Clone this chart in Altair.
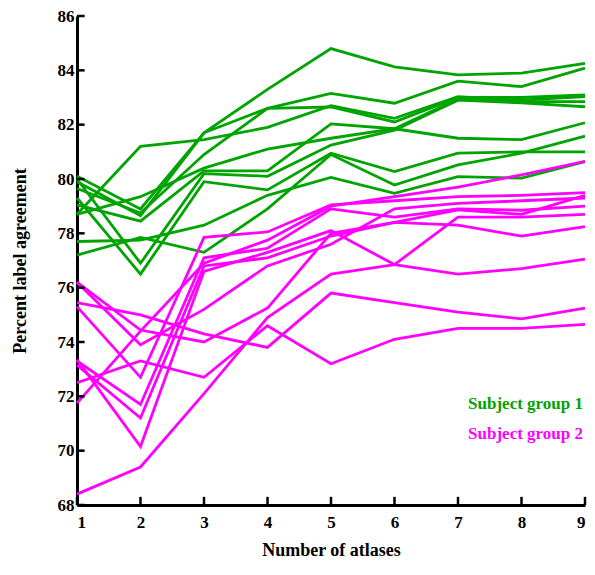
import altair as alt
import pandas as pd

atlases = [1, 2, 3, 4, 5, 6, 7, 8, 9]

# Subject group 1 (green) curves
g1 = [79.9, 78.65, 81.7, 83.3, 84.8, 84.13, 83.83, 83.9, 84.26]
g2 = [80.1, 78.9, 81.7, 82.6, 83.15, 82.79, 83.6, 83.4, 84.08]
g3 = [78.7, 81.2, 81.45, 81.9, 82.7, 82.23, 83.03, 82.9, 83.03]
g4 = [79.65, 78.75, 80.9, 82.6, 82.65, 82.1, 83.0, 83.0, 83.1]
g5 = [79.05, 78.45, 80.3, 80.3, 82.03, 81.85, 81.5, 81.45, 82.07]
g6 = [78.7, 79.35, 80.4, 81.1, 81.5, 81.85, 82.95, 82.85, 82.85]
g7 = [80.0, 76.9, 80.2, 80.1, 81.25, 81.8, 82.9, 82.8, 82.66]
g8 = [79.3, 76.5, 79.9, 79.6, 80.95, 80.27, 80.95, 81.0, 81.0]
g9 = [77.2, 77.85, 77.3, 78.9, 80.9, 79.78, 80.52, 80.95, 81.58]
g10 = [77.7, 77.75, 78.3, 79.4, 80.06, 79.47, 80.09, 80.03, 80.64]

# Subject group 2 (magenta) curves
m1 = [68.4, 69.4, 72.1, 74.9, 76.5, 76.85, 76.5, 76.7, 77.05]
m2 = [72.5, 73.3, 72.7, 74.6, 73.2, 74.1, 74.5, 74.5, 74.65]
m3 = [75.45, 75.0, 74.3, 73.8, 75.8, 75.45, 75.1, 74.85, 75.25]
m4 = [73.35, 70.15, 76.6, 77.3, 78.1, 76.85, 78.6, 78.6, 78.7]
m5 = [73.15, 71.2, 76.8, 77.1, 77.9, 78.4, 78.3, 77.9, 78.25]
m6 = [73.3, 71.7, 77.1, 77.45, 78.9, 78.6, 78.9, 78.85, 79.0]
m7 = [75.3, 72.7, 77.85, 78.05, 79.05, 79.2, 79.35, 79.4, 79.5]
m8 = [76.2, 73.9, 75.2, 76.8, 77.6, 78.9, 79.1, 79.2, 79.3]
m9 = [71.75, 74.4, 76.9, 77.75, 79.0, 79.35, 79.7, 80.15, 80.65]
m10 = [76.2, 74.44, 74.0, 75.25, 78.0, 78.4, 78.86, 78.7, 79.4]

group_names = ["Subject group 1", "Subject group 2"]
line_colors = ["#00a400", "#ff00ff"]
label_colors = ["#00cc00", "#ff00ff"]
label_y = [71.7, 70.6]

y_ticks = [68, 70, 72, 74, 76, 78, 80, 82, 84, 86]

rows = []
for gi, series in enumerate([[g1, g2, g3, g4, g5, g6, g7, g8, g9, g10],
                             [m1, m2, m3, m4, m5, m6, m7, m8, m9, m10]]):
    for si, vals in enumerate(series):
        for x, v in zip(atlases, vals):
            rows.append({"x": x, "y": v, "group": group_names[gi],
                         "series": f"{gi}-{si}"})
df = pd.DataFrame(rows)

xs = alt.Scale(domain=[1, 9], nice=False, zero=False)
ys = alt.Scale(domain=[68, 86], nice=False, zero=False)
font = "Liberation Serif"

lines = alt.Chart(df).mark_line(strokeWidth=2.8).encode(
    x=alt.X("x:Q", scale=xs, title="Number of atlases",
            axis=alt.Axis(values=atlases, format="d", tickSize=0,
                          labelPadding=9, titlePadding=11, grid=False)),
    y=alt.Y("y:Q", scale=ys, title="Percent label agreement",
            axis=alt.Axis(values=y_ticks, format="d", tickSize=0,
                          labelPadding=3, titlePadding=28, grid=False)),
    color=alt.Color("group:N", scale=alt.Scale(domain=group_names, range=line_colors),
                    legend=None),
    detail="series:N",
)

xt = pd.DataFrame({"x": atlases, "y0": [68] * 9, "y1": [68.3] * 9})
xticks = alt.Chart(xt).mark_rule(color="black", strokeWidth=2.5).encode(
    x=alt.X("x:Q", scale=xs), y=alt.Y("y0:Q", scale=ys), y2="y1:Q")

yt = pd.DataFrame({"y": y_ticks, "x0": [1] * len(y_ticks), "x1": [1.12] * len(y_ticks)})
yticks = alt.Chart(yt).mark_rule(color="black", strokeWidth=2.5).encode(
    y=alt.Y("y:Q", scale=ys), x=alt.X("x0:Q", scale=xs), x2="x1:Q")

lab = pd.DataFrame({"x": [9, 9], "y": label_y, "text": group_names})
labels = alt.Chart(lab).mark_text(align="right", baseline="middle", dx=-2,
                                  font=font, fontSize=17, fontWeight="bold").encode(
    x=alt.X("x:Q", scale=xs), y=alt.Y("y:Q", scale=ys), text="text:N",
    color=alt.Color("text:N", scale=alt.Scale(domain=group_names, range=label_colors),
                    legend=None))

chart = alt.layer(lines, xticks, yticks, labels).properties(
    width=508, height=489,
    autosize=alt.AutoSizeParams(type="none"),
    padding={"left": 69, "top": 8, "right": 2, "bottom": 58},
).configure_view(stroke=None).configure_axis(
    domainColor="black", domainWidth=3,
    labelFont=font, labelFontSize=17, labelFontWeight="bold", labelColor="black",
    titleFont=font, titleFontSize=18, titleFontWeight="bold", titleColor="black",
)

chart.save("out.html", embed_options={"renderer": "svg", "actions": False})
